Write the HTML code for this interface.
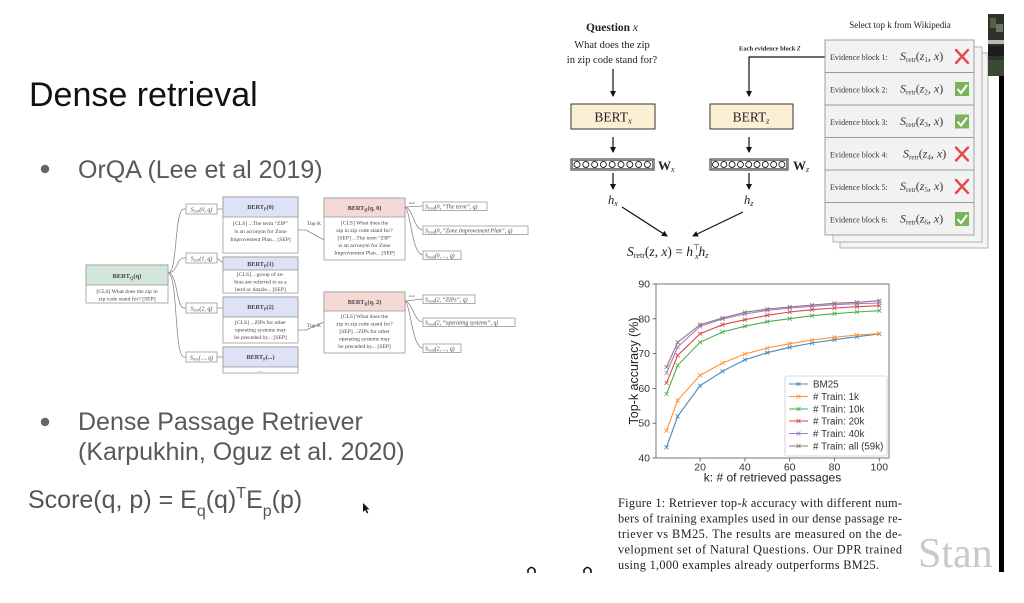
<!DOCTYPE html>
<html><head><meta charset="utf-8"><style>
html,body{margin:0;padding:0;background:#fff;}
svg{display:block;}
.sans{font-family:"Liberation Sans",Arial,sans-serif;}
.serif{font-family:"Liberation Serif","Times New Roman",serif;}
</style></head><body>
<svg width="1024" height="603" viewBox="0 0 1024 603" xmlns="http://www.w3.org/2000/svg">
<defs>
<marker id="ah" markerWidth="6" markerHeight="6" refX="5" refY="3" orient="auto" markerUnits="userSpaceOnUse"><path d="M0,0 L6,3 L0,6 z" fill="#111"/></marker>
<marker id="m0" markerWidth="5" markerHeight="5" refX="2.5" refY="2.5" markerUnits="userSpaceOnUse"><path d="M0.5,0.5L4.5,4.5M4.5,0.5L0.5,4.5" stroke="#1f77b4" stroke-width="0.8"/></marker>
<marker id="m1" markerWidth="5" markerHeight="5" refX="2.5" refY="2.5" markerUnits="userSpaceOnUse"><path d="M0.5,0.5L4.5,4.5M4.5,0.5L0.5,4.5" stroke="#ff7f0e" stroke-width="0.8"/></marker>
<marker id="m2" markerWidth="5" markerHeight="5" refX="2.5" refY="2.5" markerUnits="userSpaceOnUse"><path d="M0.5,0.5L4.5,4.5M4.5,0.5L0.5,4.5" stroke="#2ca02c" stroke-width="0.8"/></marker>
<marker id="m3" markerWidth="5" markerHeight="5" refX="2.5" refY="2.5" markerUnits="userSpaceOnUse"><path d="M0.5,0.5L4.5,4.5M4.5,0.5L0.5,4.5" stroke="#d62728" stroke-width="0.8"/></marker>
<marker id="m4" markerWidth="5" markerHeight="5" refX="2.5" refY="2.5" markerUnits="userSpaceOnUse"><path d="M0.5,0.5L4.5,4.5M4.5,0.5L0.5,4.5" stroke="#9467bd" stroke-width="0.8"/></marker>
<marker id="m5" markerWidth="5" markerHeight="5" refX="2.5" refY="2.5" markerUnits="userSpaceOnUse"><path d="M0.5,0.5L4.5,4.5M4.5,0.5L0.5,4.5" stroke="#7d5e5e" stroke-width="0.8"/></marker>
</defs>

<rect x="0" y="0" width="1024" height="603" fill="#fff"/>

<!-- Left slide text -->
<text x="29" y="106" class="sans" font-size="34" fill="#111">Dense retrieval</text>
<circle cx="45" cy="169" r="4.2" fill="#666"/>
<text x="78" y="178" class="sans" font-size="25" fill="#595959">OrQA (Lee et al 2019)</text>
<circle cx="45" cy="422" r="4.2" fill="#666"/>
<text x="78" y="430" class="sans" font-size="25" fill="#595959">Dense Passage Retriever</text>
<text x="78" y="460" class="sans" font-size="25" fill="#595959">(Karpukhin, Oguz et al. 2020)</text>
<text x="28" y="508" class="sans" font-size="25" fill="#555">Score(q, p) = E<tspan font-size="16" dy="8">q</tspan><tspan dy="-8">(q)</tspan><tspan font-size="16" dy="-10">T</tspan><tspan dy="10">E</tspan><tspan font-size="16" dy="8">p</tspan><tspan dy="-8">(p)</tspan></text>
<path d="M363,503 L363,512 L365.3,510 L367,513.5 L368.3,512.8 L366.6,509.5 L369.5,509.3 Z" fill="#111"/>

<!-- Tree diagram (OrQA) -->
<g class="serif" fill="#444" stroke="none">
  <rect x="86" y="265" width="82" height="38" fill="#fff" stroke="#999" stroke-width="0.8"/>
  <rect x="86" y="265" width="82" height="20" fill="#d3e6da" stroke="#999" stroke-width="0.8"/>
  <text x="127" y="278" font-size="6.5" text-anchor="middle" font-weight="bold">BERT<tspan font-size="4.5" dy="1.5">Q</tspan><tspan dy="-1.5">(q)</tspan></text>
  <text x="127" y="293" font-size="5.6" text-anchor="middle">[CLS] What does the zip in</text>
  <text x="127" y="300.5" font-size="5.6" text-anchor="middle">zip code stand for? [SEP]</text>
</g>
<g fill="none" stroke="#888" stroke-width="0.8">
  <path d="M168,273 C178,273 174,209 184,209 L186,209"/>
  <path d="M168,273 C178,273 176,258 184,258 L186,258"/>
  <path d="M168,273 C178,273 176,308 184,308 L186,308"/>
  <path d="M168,273 C178,273 174,357 184,357 L186,357"/>
  <path d="M217,209 L223,209 M217,258 L223,263 M217,308 L223,308 M217,357 L223,357"/>
  <path d="M298,230 L306,230 L324,240"/>
  <path d="M298,330 L306,330 L324,322"/>
</g>
<g class="serif" fill="#444">
  <g stroke="#999" stroke-width="0.8" fill="#fff">
    <rect x="186" y="204" width="31" height="10"/>
    <rect x="186" y="253" width="31" height="10"/>
    <rect x="186" y="303" width="31" height="10"/>
    <rect x="186" y="352" width="31" height="10"/>
  </g>
  <text x="201.5" y="211.5" font-size="6" text-anchor="middle" font-style="italic">S<tspan font-size="4" dy="1">retr</tspan><tspan dy="-1">(0, q)</tspan></text>
  <text x="201.5" y="260.5" font-size="6" text-anchor="middle" font-style="italic">S<tspan font-size="4" dy="1">retr</tspan><tspan dy="-1">(1, q)</tspan></text>
  <text x="201.5" y="310.5" font-size="6" text-anchor="middle" font-style="italic">S<tspan font-size="4" dy="1">retr</tspan><tspan dy="-1">(2, q)</tspan></text>
  <text x="201.5" y="359.5" font-size="6" text-anchor="middle" font-style="italic">S<tspan font-size="4" dy="1">retr</tspan><tspan dy="-1">(..., q)</tspan></text>

  <g stroke="#999" stroke-width="0.8">
    <rect x="223" y="197" width="75" height="56" fill="#fff"/>
    <rect x="223" y="197" width="75" height="20" fill="#dde2f6"/>
    <rect x="223" y="257" width="75" height="36" fill="#fff"/>
    <rect x="223" y="257" width="75" height="13" fill="#dde2f6"/>
    <rect x="223" y="297" width="75" height="46" fill="#fff"/>
    <rect x="223" y="297" width="75" height="20" fill="#dde2f6"/>
    <rect x="223" y="347" width="75" height="26" fill="#fff"/>
    <rect x="223" y="347" width="75" height="20" fill="#dde2f6"/>
  </g>
  <g font-size="5.6" text-anchor="middle">
    <text x="260.5" y="209" font-weight="bold" font-size="6.2">BERT<tspan font-size="4.3" dy="1.5">P</tspan><tspan dy="-1.5">(0)</tspan></text>
    <text x="260.5" y="225">[CLS] ...The term “ZIP”</text>
    <text x="260.5" y="233">is an acronym for Zone</text>
    <text x="260.5" y="241">Improvement Plan... [SEP]</text>
    <text x="260.5" y="266" font-weight="bold" font-size="6.2">BERT<tspan font-size="4.3" dy="1.5">P</tspan><tspan dy="-1.5">(1)</tspan></text>
    <text x="260.5" y="276">[CLS] ...group of ze-</text>
    <text x="260.5" y="283.5">bras are referred to as a</text>
    <text x="260.5" y="291">herd or dazzle... [SEP]</text>
    <text x="260.5" y="309" font-weight="bold" font-size="6.2">BERT<tspan font-size="4.3" dy="1.5">P</tspan><tspan dy="-1.5">(2)</tspan></text>
    <text x="260.5" y="324">[CLS] ...ZIPs for other</text>
    <text x="260.5" y="331.5">operating systems may</text>
    <text x="260.5" y="339">be preceded by... [SEP]</text>
    <text x="260.5" y="359" font-weight="bold" font-size="6.2">BERT<tspan font-size="4.3" dy="1.5">P</tspan><tspan dy="-1.5">(...)</tspan></text>
    <text x="260.5" y="372">...</text>
  </g>
  <text x="314" y="225" font-size="5.6" text-anchor="middle">Top K</text>
  <text x="314" y="327" font-size="5.6" text-anchor="middle">Top K</text>

  <g stroke="#999" stroke-width="0.8">
    <rect x="324" y="198" width="81" height="62" fill="#fff"/>
    <rect x="324" y="198" width="81" height="19" fill="#f5d9d7"/>
    <rect x="324" y="292" width="81" height="61" fill="#fff"/>
    <rect x="324" y="292" width="81" height="19" fill="#f5d9d7"/>
  </g>
  <g font-size="5.6" text-anchor="middle">
    <text x="364.5" y="210" font-weight="bold" font-size="6.2">BERT<tspan font-size="4.3" dy="1.5">R</tspan><tspan dy="-1.5">(q, 0)</tspan></text>
    <text x="364.5" y="224.5">[CLS] What does the</text>
    <text x="364.5" y="232">zip in zip code stand for?</text>
    <text x="364.5" y="239.5">[SEP] ...The term “ZIP”</text>
    <text x="364.5" y="247">is an acronym for Zone</text>
    <text x="364.5" y="254.5">Improvement Plan... [SEP]</text>
    <text x="364.5" y="304" font-weight="bold" font-size="6.2">BERT<tspan font-size="4.3" dy="1.5">R</tspan><tspan dy="-1.5">(q, 2)</tspan></text>
    <text x="364.5" y="318">[CLS] What does the</text>
    <text x="364.5" y="325.5">zip in zip code stand for?</text>
    <text x="364.5" y="333">[SEP] ...ZIPs for other</text>
    <text x="364.5" y="340.5">operating systems may</text>
    <text x="364.5" y="348">be preceded by... [SEP]</text>
  </g>
</g>
<g fill="none" stroke="#888" stroke-width="0.8">
  <path d="M405,207 L423,206"/>
  <path d="M405,207 C413,208 414,230 423,230"/>
  <path d="M405,207 C411,212 412,255 423,255"/>
  <path d="M405,301 L423,299"/>
  <path d="M405,301 C413,303 414,322 423,322"/>
  <path d="M405,301 C411,306 412,348 423,348"/>
</g>
<g class="serif" fill="#444">
  <g stroke="#999" stroke-width="0.8" fill="#fff">
    <rect x="423" y="202" width="64" height="8.5"/>
    <rect x="423" y="226" width="105" height="8.5"/>
    <rect x="423" y="251" width="38" height="8.5"/>
    <rect x="423" y="295" width="52" height="8.5"/>
    <rect x="423" y="318" width="92" height="8.5"/>
    <rect x="423" y="344" width="38" height="8.5"/>
  </g>
  <g font-size="5.8" font-style="italic">
    <text x="425" y="208.5">S<tspan font-size="3.8" dy="1">read</tspan><tspan dy="-1">(0, “The term”, q)</tspan></text>
    <text x="425" y="232.5">S<tspan font-size="3.8" dy="1">read</tspan><tspan dy="-1">(0, “Zone Improvement Plan”, q)</tspan></text>
    <text x="425" y="257.5">S<tspan font-size="3.8" dy="1">read</tspan><tspan dy="-1">(0, ..., q)</tspan></text>
    <text x="425" y="301.5">S<tspan font-size="3.8" dy="1">read</tspan><tspan dy="-1">(2, “ZIPs”, q)</tspan></text>
    <text x="425" y="324.5">S<tspan font-size="3.8" dy="1">read</tspan><tspan dy="-1">(2, “operating systems”, q)</tspan></text>
    <text x="425" y="350.5">S<tspan font-size="3.8" dy="1">read</tspan><tspan dy="-1">(2, ..., q)</tspan></text>
  </g>
  <g font-size="3.5">
    <text x="409" y="204">start</text>
    <text x="409" y="297">start</text>
  </g>
</g>

<!-- Right top diagram -->
<g class="serif" fill="#222">
  <text x="612" y="31" font-size="11.5" text-anchor="middle" font-weight="bold">Question <tspan font-style="italic" font-weight="normal">x</tspan></text>
  <text x="612" y="48" font-size="10.5" text-anchor="middle">What does the zip</text>
  <text x="612" y="63" font-size="10.5" text-anchor="middle">in zip code stand for?</text>
</g>
<g stroke="#111" stroke-width="1.2" fill="none">
  <line x1="613" y1="69" x2="613" y2="96" marker-end="url(#ah)"/>
  <line x1="613" y1="137" x2="613" y2="152" marker-end="url(#ah)"/>
  <line x1="613" y1="173" x2="613" y2="189" marker-end="url(#ah)"/>
  <line x1="749" y1="137" x2="749" y2="152" marker-end="url(#ah)"/>
  <line x1="749" y1="173" x2="749" y2="189" marker-end="url(#ah)"/>
  <line x1="622" y1="207" x2="667" y2="236" marker-end="url(#ah)"/>
  <line x1="743" y1="212" x2="693" y2="236" marker-end="url(#ah)"/>
  <polyline points="825,57 749,57 749,96" marker-end="url(#ah)"/>
</g>
<rect x="571" y="104" width="84" height="25" fill="#fcf0d4" stroke="#333" stroke-width="1"/>
<rect x="710" y="104" width="83" height="25" fill="#fcf0d4" stroke="#333" stroke-width="1"/>
<g class="serif" fill="#222">
  <text x="613" y="121.5" font-size="13.5" text-anchor="middle">BERT<tspan font-size="8" font-style="italic" dy="2">x</tspan></text>
  <text x="751" y="121.5" font-size="13.5" text-anchor="middle">BERT<tspan font-size="8" font-style="italic" dy="2">z</tspan></text>
</g>
<g fill="none" stroke="#222">
  <rect x="571" y="159" width="83" height="11" stroke-width="1"/>
  <rect x="572.5" y="160.5" width="80" height="8" stroke-width="0.6"/>
  <rect x="710" y="159" width="78" height="11" stroke-width="1"/>
  <rect x="711.5" y="160.5" width="75" height="8" stroke-width="0.6"/>
  <g stroke-width="0.9">
    <circle cx="577" cy="164.5" r="3"/><circle cx="585.8" cy="164.5" r="3"/><circle cx="594.6" cy="164.5" r="3"/><circle cx="603.4" cy="164.5" r="3"/><circle cx="612.2" cy="164.5" r="3"/><circle cx="621" cy="164.5" r="3"/><circle cx="629.8" cy="164.5" r="3"/><circle cx="638.6" cy="164.5" r="3"/><circle cx="647.4" cy="164.5" r="3"/>
    <circle cx="715.5" cy="164.5" r="3"/><circle cx="723.8" cy="164.5" r="3"/><circle cx="732.1" cy="164.5" r="3"/><circle cx="740.4" cy="164.5" r="3"/><circle cx="748.7" cy="164.5" r="3"/><circle cx="757" cy="164.5" r="3"/><circle cx="765.3" cy="164.5" r="3"/><circle cx="773.6" cy="164.5" r="3"/><circle cx="781.9" cy="164.5" r="3"/>
  </g>
</g>
<g class="serif" fill="#222">
  <text x="658" y="170" font-size="13" font-weight="bold">W<tspan font-size="8" font-style="italic" font-weight="normal" dy="2">x</tspan></text>
  <text x="793" y="170" font-size="13" font-weight="bold">W<tspan font-size="8" font-style="italic" font-weight="normal" dy="2">z</tspan></text>
  <text x="608" y="204" font-size="12.5" font-style="italic">h<tspan font-size="8" dy="2">x</tspan></text>
  <text x="744" y="204" font-size="12.5" font-style="italic">h<tspan font-size="8" dy="2">z</tspan></text>
  <text x="627" y="256" font-size="13.5" font-style="italic">S<tspan font-size="8" font-style="normal" dy="2">retr</tspan><tspan dy="-2" font-style="normal">(</tspan>z, x<tspan font-style="normal">) = </tspan>h<tspan font-size="8" dy="-6" font-style="normal">⊤</tspan><tspan font-size="8" dx="-5" dy="9">x</tspan><tspan dy="-3">h</tspan><tspan font-size="8" dy="2">z</tspan></text>
  <text x="739" y="50.5" font-size="6.5" font-weight="bold">Each evidence block <tspan font-style="italic" font-weight="normal" font-size="9">z</tspan></text>
  <text x="900" y="28" font-size="9" text-anchor="middle">Select top k from Wikipedia</text>
</g>

<!-- Evidence stack -->
<rect x="840" y="53" width="148" height="195" fill="#f4f4f4" stroke="#aaa" stroke-width="0.9"/>
<rect x="833" y="47" width="149" height="195" fill="#f4f4f4" stroke="#aaa" stroke-width="0.9"/>
<rect x="825" y="40" width="149" height="195" fill="#f2f2f2" stroke="#999" stroke-width="0.9"/>
<g stroke="#999" stroke-width="0.9">
  <line x1="825" y1="72.5" x2="974" y2="72.5"/>
  <line x1="825" y1="105" x2="974" y2="105"/>
  <line x1="825" y1="137.5" x2="974" y2="137.5"/>
  <line x1="825" y1="170" x2="974" y2="170"/>
  <line x1="825" y1="202.5" x2="974" y2="202.5"/>
</g>
<g class="serif" fill="#333">
  <text x="830" y="60"><tspan font-size="8">Evidence block 1: </tspan><tspan x="900" font-size="12" font-style="italic">S<tspan font-size="7" font-style="normal" dy="2">retr</tspan><tspan dy="-2" font-style="normal">(</tspan>z<tspan font-size="7" font-style="normal" dy="2">1</tspan><tspan dy="-2">, x</tspan><tspan font-style="normal">)</tspan></tspan></text>
  <text x="830" y="92.5"><tspan font-size="8">Evidence block 2: </tspan><tspan x="900" font-size="12" font-style="italic">S<tspan font-size="7" font-style="normal" dy="2">retr</tspan><tspan dy="-2" font-style="normal">(</tspan>z<tspan font-size="7" font-style="normal" dy="2">2</tspan><tspan dy="-2">, x</tspan><tspan font-style="normal">)</tspan></tspan></text>
  <text x="830" y="125"><tspan font-size="8">Evidence block 3: </tspan><tspan x="900" font-size="12" font-style="italic">S<tspan font-size="7" font-style="normal" dy="2">retr</tspan><tspan dy="-2" font-style="normal">(</tspan>z<tspan font-size="7" font-style="normal" dy="2">3</tspan><tspan dy="-2">, x</tspan><tspan font-style="normal">)</tspan></tspan></text>
  <text x="830" y="157.5"><tspan font-size="8">Evidence block 4: </tspan><tspan x="903" font-size="12" font-style="italic">S<tspan font-size="7" font-style="normal" dy="2">retr</tspan><tspan dy="-2" font-style="normal">(</tspan>z<tspan font-size="7" font-style="normal" dy="2">4</tspan><tspan dy="-2">, x</tspan><tspan font-style="normal">)</tspan></tspan></text>
  <text x="830" y="190"><tspan font-size="8">Evidence block 5: </tspan><tspan x="900" font-size="12" font-style="italic">S<tspan font-size="7" font-style="normal" dy="2">retr</tspan><tspan dy="-2" font-style="normal">(</tspan>z<tspan font-size="7" font-style="normal" dy="2">5</tspan><tspan dy="-2">, x</tspan><tspan font-style="normal">)</tspan></tspan></text>
  <text x="830" y="222.5"><tspan font-size="8">Evidence block 6: </tspan><tspan x="900" font-size="12" font-style="italic">S<tspan font-size="7" font-style="normal" dy="2">retr</tspan><tspan dy="-2" font-style="normal">(</tspan>z<tspan font-size="7" font-style="normal" dy="2">6</tspan><tspan dy="-2">, x</tspan><tspan font-style="normal">)</tspan></tspan></text>
</g>
<g stroke="#e5484d" stroke-width="2.4" stroke-linecap="round">
  <path d="M956,50 L968,63 M968,50 L956,63"/>
  <path d="M956,147.5 L968,160.5 M968,147.5 L956,160.5"/>
  <path d="M956,180 L968,193 M968,180 L956,193"/>
</g>
<g>
  <rect x="955" y="82" width="14" height="14" fill="#79b45a"/>
  <path d="M957.5,89 L961,93 L967,85" stroke="#fff" stroke-width="2" fill="none"/>
  <rect x="955" y="114.5" width="14" height="14" fill="#79b45a"/>
  <path d="M957.5,121.5 L961,125.5 L967,117.5" stroke="#fff" stroke-width="2" fill="none"/>
  <rect x="955" y="212" width="14" height="14" fill="#79b45a"/>
  <path d="M957.5,219 L961,223 L967,215" stroke="#fff" stroke-width="2" fill="none"/>
</g>

<!-- Chart -->
<g class="sans">
  <rect x="656" y="284" width="233" height="174" fill="#fff" stroke="#555" stroke-width="0.8"/>
  <g stroke="#555" stroke-width="0.8">
    <line x1="652.5" y1="284" x2="656" y2="284"/>
    <line x1="652.5" y1="318.8" x2="656" y2="318.8"/>
    <line x1="652.5" y1="353.6" x2="656" y2="353.6"/>
    <line x1="652.5" y1="388.4" x2="656" y2="388.4"/>
    <line x1="652.5" y1="423.2" x2="656" y2="423.2"/>
    <line x1="652.5" y1="458" x2="656" y2="458"/>
    <line x1="700.1" y1="458" x2="700.1" y2="461.5"/>
    <line x1="744.9" y1="458" x2="744.9" y2="461.5"/>
    <line x1="789.7" y1="458" x2="789.7" y2="461.5"/>
    <line x1="834.5" y1="458" x2="834.5" y2="461.5"/>
    <line x1="879.3" y1="458" x2="879.3" y2="461.5"/>
  </g>
  <g font-size="10.5" fill="#333" text-anchor="end">
    <text x="650" y="287.5">90</text>
    <text x="650" y="322.3">80</text>
    <text x="650" y="357.1">70</text>
    <text x="650" y="391.9">60</text>
    <text x="650" y="426.7">50</text>
    <text x="650" y="461.5">40</text>
  </g>
  <g font-size="10.5" fill="#333" text-anchor="middle">
    <text x="700.1" y="470.5">20</text>
    <text x="744.9" y="470.5">40</text>
    <text x="789.7" y="470.5">60</text>
    <text x="834.5" y="470.5">80</text>
    <text x="879.3" y="470.5">100</text>
  </g>
  <text x="772.5" y="481.5" font-size="12" fill="#222" text-anchor="middle">k: # of retrieved passages</text>
  <text transform="translate(638,371) rotate(-90)" font-size="12.5" fill="#222" text-anchor="middle">Top-k accuracy (%)</text>

  <g fill="none" stroke-width="1.1" opacity="0.85">
    <polyline stroke="#1f77b4" marker-start="url(#m0)" marker-mid="url(#m0)" marker-end="url(#m0)" points="666.5,447.3 677.7,416.3 700.1,385.7 722.5,371.3 744.9,359.7 767.3,352.7 789.7,347.3 812.1,343 834.5,339.7 856.9,336.7 879.3,334"/>
    <polyline stroke="#ff7f0e" marker-start="url(#m1)" marker-mid="url(#m1)" marker-end="url(#m1)" points="666.5,430.7 677.7,400.3 700.1,375.3 722.5,363 744.9,354 767.3,348 789.7,343.7 812.1,340 834.5,337.3 856.9,335 879.3,333.7"/>
    <polyline stroke="#2ca02c" marker-start="url(#m2)" marker-mid="url(#m2)" marker-end="url(#m2)" points="666.5,394 677.7,365.3 700.1,342.3 722.5,332 744.9,326.3 767.3,321.7 789.7,318.7 812.1,315.7 834.5,313.7 856.9,312 879.3,310.7"/>
    <polyline stroke="#d62728" marker-start="url(#m3)" marker-mid="url(#m3)" marker-end="url(#m3)" points="666.5,383 677.7,355.3 700.1,333.7 722.5,324.7 744.9,319.7 767.3,315.3 789.7,312 812.1,309.7 834.5,308 856.9,306.7 879.3,305.7"/>
    <polyline stroke="#9467bd" marker-start="url(#m4)" marker-mid="url(#m4)" marker-end="url(#m4)" points="666.5,373 677.7,347 700.1,326.3 722.5,319 744.9,314 767.3,310.3 789.7,308 812.1,306.3 834.5,304.7 856.9,303.7 879.3,303"/>
    <polyline stroke="#7d5e5e" marker-start="url(#m5)" marker-mid="url(#m5)" marker-end="url(#m5)" points="666.5,367 677.7,342.3 700.1,324.7 722.5,318 744.9,312.3 767.3,309 789.7,307 812.1,305 834.5,303.3 856.9,302.3 879.3,300.7"/>
  </g>

  <rect x="785" y="376" width="102" height="80" rx="2" fill="#fff" fill-opacity="0.85" stroke="#ccc" stroke-width="0.8"/>
  <g stroke-width="1.1" opacity="0.85">
    <line x1="789" y1="384" x2="808" y2="384" stroke="#1f77b4"/>
    <line x1="789" y1="396.5" x2="808" y2="396.5" stroke="#ff7f0e"/>
    <line x1="789" y1="409" x2="808" y2="409" stroke="#2ca02c"/>
    <line x1="789" y1="421" x2="808" y2="421" stroke="#d62728"/>
    <line x1="789" y1="433.5" x2="808" y2="433.5" stroke="#9467bd"/>
    <line x1="789" y1="446" x2="808" y2="446" stroke="#7d5e5e"/>
    <g stroke-width="0.8">
      <path d="M796.5,382 l4,4 m0,-4 l-4,4" stroke="#1f77b4"/>
      <path d="M796.5,394.5 l4,4 m0,-4 l-4,4" stroke="#ff7f0e"/>
      <path d="M796.5,407 l4,4 m0,-4 l-4,4" stroke="#2ca02c"/>
      <path d="M796.5,419 l4,4 m0,-4 l-4,4" stroke="#d62728"/>
      <path d="M796.5,431.5 l4,4 m0,-4 l-4,4" stroke="#9467bd"/>
      <path d="M796.5,444 l4,4 m0,-4 l-4,4" stroke="#7d5e5e"/>
    </g>
  </g>
  <g font-size="9.8" fill="#333">
    <text x="813" y="387.5">BM25</text>
    <text x="813" y="400">#&#160;Train: 1k</text>
    <text x="813" y="412.5">#&#160;Train: 10k</text>
    <text x="813" y="424.5">#&#160;Train: 20k</text>
    <text x="813" y="437">#&#160;Train: 40k</text>
    <text x="813" y="449.5">#&#160;Train: all (59k)</text>
  </g>
</g>

<!-- Caption -->
<g class="serif" font-size="12.3" fill="#222">
  <text x="618" y="507" textLength="284" lengthAdjust="spacing">Figure 1: Retriever top-<tspan font-style="italic">k</tspan> accuracy with different num-</text>
  <text x="618" y="522.5" textLength="284" lengthAdjust="spacing">bers of training examples used in our dense passage re-</text>
  <text x="618" y="538" textLength="284" lengthAdjust="spacing">triever vs BM25.  The results are measured on the de-</text>
  <text x="618" y="553.5" textLength="284" lengthAdjust="spacing">velopment set of Natural Questions.  Our DPR trained</text>
  <text x="618" y="569" textLength="261" lengthAdjust="spacing">using 1,000 examples already outperforms BM25.</text>
</g>

<!-- Watermark -->
<text x="918" y="567" class="serif" font-size="42" fill="#c9c9c9">Stan</text>

<!-- Bottom partial glyphs -->
<g fill="none" stroke="#111" stroke-width="1.6">
  <path d="M528,573 L528,570 Q531.5,565 535,570 L535,573"/>
  <path d="M584,573 L584,570 Q587.5,565 591,570 L591,573"/>
</g>

<!-- Right edge: video strip -->
<rect x="988" y="14" width="16" height="62" fill="#2d3326"/>
<rect x="990" y="18" width="6" height="10" fill="#55604a"/>
<rect x="996" y="24" width="7" height="8" fill="#6b7460"/>
<rect x="988" y="40" width="16" height="4" fill="#b8b8b8"/>
<rect x="988" y="46" width="16" height="10" fill="#1c1c1c"/>
<rect x="988" y="60" width="16" height="16" fill="#3a4a32"/>
<rect x="999" y="76" width="5" height="496" fill="#000"/>
</svg>
</body></html>
